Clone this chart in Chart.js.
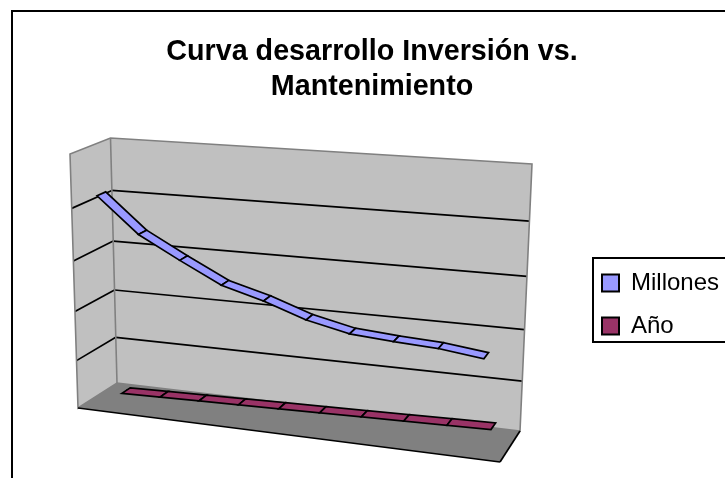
<!DOCTYPE html>
<html>
<head>
<meta charset="utf-8">
<title>Curva desarrollo</title>
<script src="https://cdn.jsdelivr.net/npm/chart.js@4"></script>
<style>
  html, body { margin: 0; padding: 0; background: #fff; overflow: hidden; }
  canvas { display: block; }
</style>
</head>
<body>
<canvas id="chart" width="725" height="478"></canvas>
<script>
const categories = ['1', '2', '3', '4', '5', '6', '7', '8', '9', '10'];
const millones = [211, 178, 157, 137, 126, 112, 103, 100, 98, 93];
const anio = [1, 2, 3, 4, 5, 6, 7, 8, 9, 10];
const titleLines = ['Curva desarrollo Inversión vs.', 'Mantenimiento'];

// corners of the 3D box on the page: [back, front] for each of the 4 wall corners
const box = {
    bottomLeft: [[117, 383], [78, 408]],
    bottomRight: [[520, 431], [500, 462]],
    topLeft: [[110.5, 138], [70, 154]],
    topRight: [[532, 164], [512, 187]]
};
const foreshorten = 1.09;
const legendFrame = { left: 593, top: 258, right: 740, bottom: 342 };

function mix(a, b, t) {
    return [a[0] + (b[0] - a[0]) * t, a[1] + (b[1] - a[1]) * t];
}

// perspective squeeze: steps get a little longer toward the far end
function warp(t) {
    return t / (t + foreshorten * (1 - t));
}

// u along categories, v up the value axis, d from back wall to front
function project(u, v, d) {
    const uw = warp(u);
    const bottom = mix(mix(box.bottomLeft[0], box.bottomRight[0], uw), mix(box.bottomLeft[1], box.bottomRight[1], uw), d);
    const top = mix(mix(box.topLeft[0], box.topRight[0], uw), mix(box.topLeft[1], box.topRight[1], uw), d);
    return mix(bottom, top, warp(v));
}

function polygon(ctx, pts, fill, stroke, width) {
    ctx.beginPath();
    pts.forEach((p, i) => i ? ctx.lineTo(p[0], p[1]) : ctx.moveTo(p[0], p[1]));
    ctx.closePath();
    if (fill) {
        ctx.fillStyle = fill;
        ctx.fill();
    }
    if (stroke) {
        ctx.strokeStyle = stroke;
        ctx.lineWidth = width;
        ctx.stroke();
    }
}

function segment(ctx, a, b, color, width) {
    ctx.beginPath();
    ctx.moveTo(a[0], a[1]);
    ctx.lineTo(b[0], b[1]);
    ctx.strokeStyle = color;
    ctx.lineWidth = width;
    ctx.stroke();
}

const box3d = {
    id: 'box3d',
    // title and legend do not sit where the layout puts them in the original
    afterLayout(chart) {
        chart.titleBlock.left = 0;
        chart.titleBlock.right = 744;
        const legend = chart.legend;
        legend.left = 583;
        legend.right = 740;
        legend.top = 252;
        legend.bottom = 478;
    },
    // move the points the line controller placed onto the box
    afterDatasetsUpdate(chart) {
        const { x, y } = chart.scales;
        chart.data.datasets.forEach((ds, n) => {
            chart.getDatasetMeta(n).data.forEach((pt, i) => {
                const u = (x.getPixelForValue(i) - x.left) / x.width;
                const v = (y.bottom - y.getPixelForValue(ds.data[i])) / y.height;
                const p = project(u, v, ds.depth);
                pt.$uv = [u, v];
                pt.x = p[0];
                pt.y = p[1];
            });
        });
    },
    beforeDraw(chart) {
        const ctx = chart.ctx;
        const y = chart.scales.y;
        ctx.save();
        ctx.fillStyle = '#fff';
        ctx.fillRect(0, 0, chart.width, chart.height);
        ctx.lineJoin = 'miter';

        // side wall, back wall, floor
        polygon(ctx, [project(0, 0, 0), project(0, 1, 0), project(0, 1, 1), project(0, 0, 1)], '#c0c0c0');
        polygon(ctx, [project(0, 0, 0), project(1, 0, 0), project(1, 1, 0), project(0, 1, 0)], '#c0c0c0');
        polygon(ctx, [project(0, 0, 0), project(1, 0, 0), project(1, 0, 1), project(0, 0, 1)], '#808080');

        // gridlines from the value axis ticks
        y.ticks.forEach(tick => {
            if (tick.value === y.min || tick.value === y.max) return;
            const v = (y.bottom - y.getPixelForValue(tick.value)) / y.height;
            segment(ctx, project(0, v, 1), project(0, v, 0), '#000', 1.7);
            segment(ctx, project(0, v, 0), project(1, v, 0), '#000', 1.7);
        });

        // wall edges
        polygon(ctx, [project(0, 0, 1), project(0, 1, 1), project(0, 1, 0), project(1, 1, 0), project(1, 0, 0), project(0, 0, 0), project(0, 0, 1)], null, '#808080', 1.6);
        segment(ctx, project(0, 1, 0), project(0, 0, 0), '#808080', 1.6);
        segment(ctx, project(0, 0, 1), project(1, 0, 1), '#000', 1.7);
        segment(ctx, project(1, 0, 1), project(1, 0, 0), '#000', 1.7);
        ctx.restore();
    },
    // ribbon of each series, one quad per step between points
    afterDatasetDraw(chart, args) {
        const ctx = chart.ctx;
        const ds = chart.data.datasets[args.index];
        const pts = args.meta.data;
        ctx.save();
        ctx.lineJoin = 'miter';
        for (let i = 0; i < pts.length - 1; i++) {
            const a = pts[i].$uv;
            const b = pts[i + 1].$uv;
            polygon(ctx, [
                project(a[0], a[1], ds.depth + ds.ribbon),
                project(a[0], a[1], ds.depth - ds.ribbon),
                project(b[0], b[1], ds.depth - ds.ribbon),
                project(b[0], b[1], ds.depth + ds.ribbon)
            ], ds.backgroundColor, '#000', 1.7);
        }
        ctx.restore();
    },
    afterDraw(chart) {
        const ctx = chart.ctx;
        ctx.save();
        ctx.strokeStyle = '#000';
        ctx.lineWidth = 2;
        ctx.strokeRect(legendFrame.left, legendFrame.top, legendFrame.right - legendFrame.left, legendFrame.bottom - legendFrame.top);
        ctx.strokeRect(12, 11, 800, 600);
        ctx.restore();
    }
};

new Chart(document.getElementById('chart'), {
    type: 'line',
    data: {
        labels: categories,
        datasets: [
            { label: 'Millones', data: millones, depth: 0.75, ribbon: 0.11, borderColor: '#000', backgroundColor: '#9999ff', borderWidth: 2, pointRadius: 0, clip: false },
            { label: 'Año', data: anio, depth: 0.25, ribbon: 0.11, borderColor: '#000', backgroundColor: '#993366', borderWidth: 2, pointRadius: 0, clip: false }
        ]
    },
    options: {
        responsive: false,
        animation: false,
        layout: { padding: 0 },
        scales: {
            x: { display: false, offset: true },
            y: { display: false, min: 0, max: 250, ticks: { stepSize: 50 } }
        },
        plugins: {
            tooltip: { enabled: false },
            title: {
                display: true,
                text: titleLines,
                color: '#000',
                font: { family: '"Liberation Sans", Arial, sans-serif', size: 28.7, weight: 'bold' },
                padding: { top: 35, bottom: 10 }
            },
            legend: {
                position: 'right',
                align: 'start',
                labels: {
                    color: '#000',
                    boxWidth: 17,
                    boxHeight: 17,
                    padding: 19,
                    font: { family: '"Liberation Sans", Arial, sans-serif', size: 24 }
                }
            }
        }
    },
    plugins: [box3d]
});
</script>
</body>
</html>
